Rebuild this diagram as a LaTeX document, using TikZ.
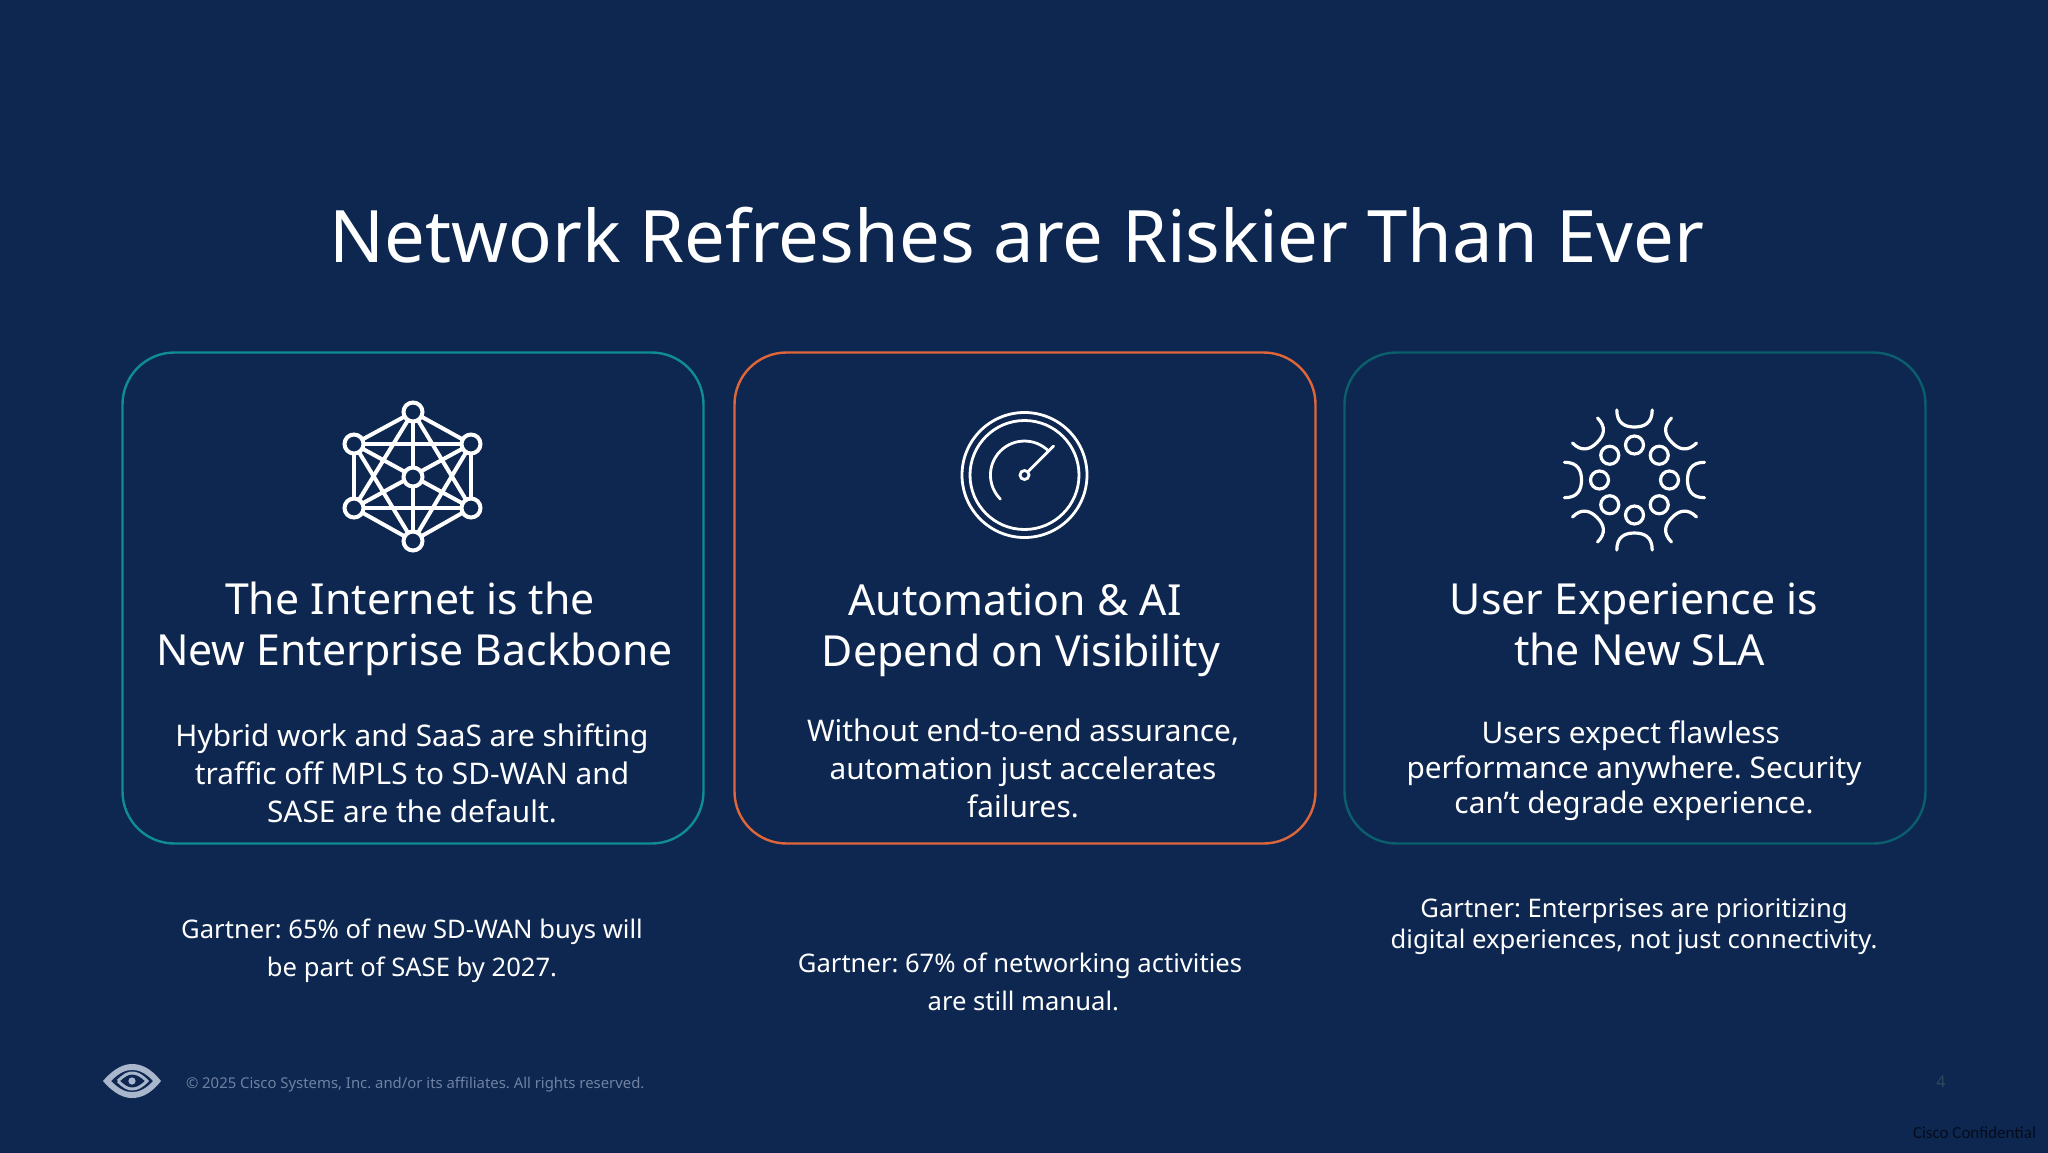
\documentclass[tikz,border=0pt]{standalone}
\usepackage{fontspec}
\usetikzlibrary{calc}
\setmainfont{Noto Sans}
\newfontfamily\confont{Carlito}
\definecolor{navy}{HTML}{0D2750}
\definecolor{tealline}{HTML}{0F8C94}
\definecolor{orangeline}{HTML}{E0663A}
\definecolor{darkteal}{HTML}{0B5E6C}
\definecolor{footgrey}{HTML}{6F82A2}
\definecolor{eyegrey}{HTML}{A9B6CB}
\definecolor{pagenum}{HTML}{2B4A5A}
\definecolor{conftext}{HTML}{050C1C}
\tikzset{
  card/.style={draw=#1,line width=2.4pt,rounded corners=52pt,minimum width=581pt,minimum height=491pt},
  headtext/.style={font=\fontsize{42.8}{51}\selectfont},
  bodytext/.style={font=\fontsize{29.8}{38}\selectfont},
  notetext/.style={font=\fontsize{25.6}{38.3}\selectfont},
  iconline/.style={white,line width=#1,line cap=round},
  hubnode/.style={circle,draw=white,fill=navy,line width=4pt,minimum size=19pt},
  headnode/.style={circle,draw=white,line width=3.2pt,minimum size=18pt}
}
\begin{document}
\frenchspacing
\begin{tikzpicture}
[x=1pt,y=-1pt,every node/.append style={text=white,inner sep=0pt,outer sep=0pt,align=center}]
\useasboundingbox (0,0) rectangle (2048,1152);
\fill[navy] (-3,-3) rectangle (2051,1155);
\node[font=\fontsize{72.4}{80}\selectfont] (title) at (1017,235) {Network Refreshes are Riskier Than Ever};
% cards
\node[card=tealline] (carda) at (413,598) {};
\node[card=orangeline] (cardb) at (1025,598) {};
\node[card=darkteal] (cardc) at (1635,598) {};
% mesh icon
\foreach \name/\px/\py in {ctr/413/477,top/413/412,bot/413/541,ul/354/444,ur/471/444,ll/354/508,lr/471/508}
\coordinate (\name) at (\px,\py);
\foreach \from/\to in {top/ur,ur/lr,lr/bot,bot/ll,ll/ul,ul/top,top/bot,ul/lr,ur/ll,ul/ur,ll/lr,top/ll,top/lr,bot/ul,bot/ur}
\draw[iconline=4pt] (\from) -- (\to);
\foreach \name in {ctr,top,bot,ul,ur,ll,lr}
\node[hubnode] at (\name) {};
% gauge icon
\coordinate (gauge) at (1024.5,475);
\draw[iconline=2.8pt] (gauge) circle (62.5);
\draw[iconline=2.8pt] (gauge) circle (54.5);
\draw[iconline=2.8pt] ($(gauge)+(1,-1)$) -- ++(28,-28);
\draw[iconline=2.8pt] ($(gauge)+(24,-24)$) arc[start angle=-45,end angle=-225,radius=34];
\node[circle,draw=white,fill=navy,line width=2.8pt,minimum size=9pt] at (gauge) {};
% people icon
\coordinate (ring) at (1634.5,480);
\foreach \ang in {0,45,...,315}{
\begin{scope}[shift={(ring)},rotate=\ang]
\node[headnode] at (0,35) {};
\draw[iconline=3.2pt] (-17.7,70) .. controls (-17.7,57) and (-10,53) .. (0,53) .. controls (10,53) and (17.7,57) .. (17.7,70);
\end{scope}}
% card texts
\node[headtext] (heada) at (414.5,629) {The Internet is the\kern9pt\\New Enterprise Backbone};
\node[bodytext] (bodya) at (412,773) {Hybrid work and SaaS are shifting\\traffic off MPLS to SD-WAN and\\SASE are the default.};
\node[headtext] (headb) at (1021,630.5) {Automation \& AI\kern12pt\\Depend on Visibility};
\node[bodytext] (bodyb) at (1023,768.5) {Without end-to-end assurance,\\automation just accelerates\\failures.};
\node[headtext] (headc) at (1634,624) {User Experience is\\\ the New SLA};
\node[bodytext,font=\fontsize{29.8}{35}\selectfont] (bodyc) at (1634,771) {Users expect flawless\kern6.5pt\\performance anywhere. Security\\can’t degrade experience.};
% notes under the cards
\node[notetext] (notea) at (412,951) {Gartner: 65\% of new SD-WAN buys will\\be part of SASE by 2027.};
\node[notetext] (noteb) at (1020,982) {Gartner: 67\% of networking activities\\\ are still manual.};
\node[notetext,font=\fontsize{25.6}{31}\selectfont] (notec) at (1634,926.5) {Gartner: Enterprises are prioritizing\\digital experiences, not just connectivity.};
% footer
\coordinate (eye) at (132,1081);
\fill[eyegrey,even odd rule] (103,1081) .. controls (115,1067) and (125,1064) .. (132,1064) .. controls (140,1064) and (150,1067) .. (161,1081) .. controls (150,1095) and (140,1098) .. (132,1098) .. controls (125,1098) and (115,1095) .. (103,1081)
 (111,1081) .. controls (120,1072) and (126,1070) .. (132,1070) .. controls (138,1070) and (145,1072) .. (153,1081) .. controls (145,1090) and (138,1092) .. (132,1092) .. controls (126,1092) and (120,1090) .. (111,1081);
\draw[eyegrey,line width=3pt] (118,1081) .. controls (124,1075) and (128,1073) .. (132,1073) .. controls (137,1073) and (141,1075) .. (147,1081) .. controls (141,1087) and (137,1089) .. (132,1089) .. controls (128,1089) and (124,1087) .. (118,1081);
\fill[eyegrey] (eye) circle (3.6);
\node[text=footgrey,font=\fontsize{14.87}{18}\selectfont,anchor=west] (copy) at (186,1085) {© 2025 Cisco Systems, Inc. and/or its affiliates. All rights reserved.};
\node[text=pagenum,font=\fontsize{16}{18}\selectfont] (page) at (1941,1082) {4};
\node[text=conftext,font=\confont\fontsize{17}{20}\selectfont,anchor=east] (conf) at (2036,1133) {Cisco Confidential};
\end{tikzpicture}
\end{document}
